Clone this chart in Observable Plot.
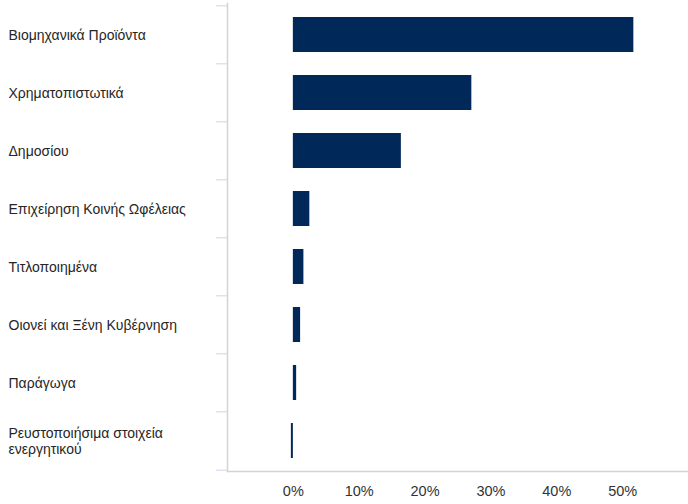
<!DOCTYPE html>
<html>
<head>
<meta charset="utf-8">
<script src="https://cdn.jsdelivr.net/npm/d3@7"></script>
<script src="https://cdn.jsdelivr.net/npm/@observablehq/plot@0.6"></script>
<style>
  html, body { margin: 0; padding: 0; background: #fff; }
  #chart { width: 688px; height: 504px; }
</style>
</head>
<body>
<div id="chart"></div>
<script>
const categories = [
  "Βιομηχανικά Προϊόντα",
  "Χρηματοπιστωτικά",
  "Δημοσίου",
  "Επιχείρηση Κοινής Ωφέλειας",
  "Τιτλοποιημένα",
  "Οιονεί και Ξένη Κυβέρνηση",
  "Παράγωγα",
  "Ρευστοποιήσιμα στοιχεία ενεργητικού"
];
const values = [51.7, 27.1, 16.4, 2.5, 1.6, 1.1, 0.5, -0.3];
const xTicks = [0, 10, 20, 30, 40, 50];

const data = categories.map((c, i) => ({category: c, value: values[i]}));
const font = "Liberation Sans, Arial, sans-serif";
const step = (471 - 3) / categories.length;

const chart = Plot.plot({
  width: 688,
  height: 504,
  marginLeft: 227,
  marginRight: 0,
  marginTop: 3,
  marginBottom: 33,
  style: {fontFamily: font, fontSize: "14px", color: "#333", background: "#fff"},
  x: {domain: [-10, 60], label: null},
  y: {domain: categories, paddingInner: 0.4, paddingOuter: 0.2, axis: null, label: null},
  marks: [
    Plot.barX(data, {x: "value", y: "category", fill: "#002859"}),
    Plot.axisY(categories, {anchor: "left", label: null, tickSize: 11, dy: -step / 2, tickFormat: () => "", stroke: "#dce2f0", strokeWidth: 1.5}),
    Plot.axisY([categories[categories.length - 1]], {anchor: "left", label: null, tickSize: 11, dy: step / 2, tickFormat: () => "", stroke: "#dce2f0", strokeWidth: 1.5}),
    Plot.frame({anchor: "left", stroke: "#d4d4d4", strokeWidth: 1.5}),
    Plot.frame({anchor: "bottom", stroke: "#d4d4d4", strokeWidth: 1.5}),
    Plot.text(data, {y: "category", text: "category", frameAnchor: "left", dx: -219, textAnchor: "start", lineWidth: 17, fill: "#262626", fontSize: 14, lineHeight: 1.1}),
    Plot.axisX(xTicks, {anchor: "bottom", label: null, tickSize: 0, tickPadding: 14, tickFormat: d => d + "%", fontSize: 14.5, fill: "#333"})
  ]
});
document.getElementById("chart").appendChild(chart);
</script>
</body>
</html>
